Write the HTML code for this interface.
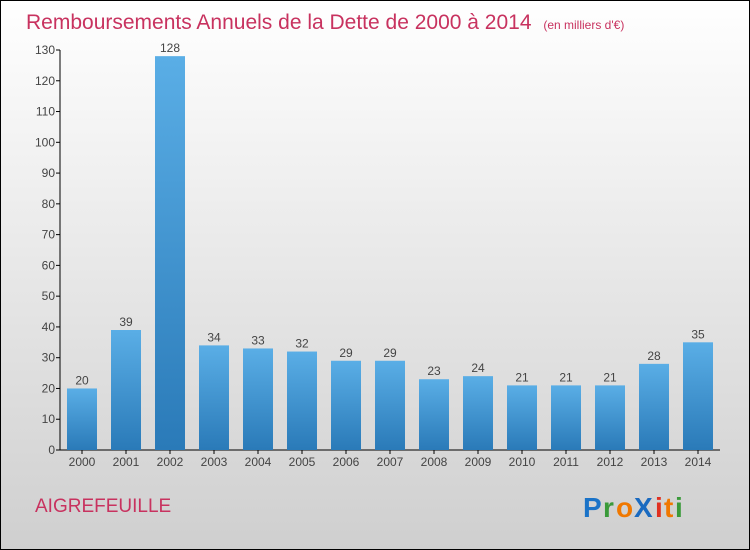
<!DOCTYPE html>
<html><head><meta charset="utf-8"><style>
body{margin:0}
#c{width:750px;height:550px;position:relative;overflow:hidden}
svg text{font-family:"Liberation Sans",sans-serif}
</style></head><body>
<div id="c">
<svg id="s" width="750" height="550" xmlns="http://www.w3.org/2000/svg">
<defs>
<linearGradient id="bg" x1="0" y1="0" x2="0" y2="1"><stop offset="0" stop-color="#ffffff"/><stop offset="1" stop-color="#cfcfcf"/></linearGradient>
<linearGradient id="bar" x1="0" y1="0" x2="0" y2="1"><stop offset="0" stop-color="#5aaee6"/><stop offset="1" stop-color="#2a7ab8"/></linearGradient>
</defs>
<rect x="0.5" y="0.5" width="749" height="549" fill="url(#bg)" stroke="#000"/>
<text x="26" y="29" font-size="21" fill="#c8325f">Remboursements Annuels de la Dette de 2000 à 2014 <tspan font-size="12" dx="6">(en milliers d'€)</tspan></text>
<g id="axes"></g>
<g id="bars"></g>
<text x="35" y="512" font-size="19" fill="#c8325f">AIGREFEUILLE</text>
<g font-size="28" font-weight="bold">
<text x="583" y="517" fill="#1a73c8">P</text><text x="603" y="517" fill="#3a9a3a">r</text><text x="616" y="517" fill="#f07800">o</text><text x="634" y="517" fill="#1a6ac0">X</text><text x="655" y="517" fill="#e03020">i</text><text x="664" y="517" fill="#f07800">t</text><text x="675" y="517" fill="#3a9a3a">i</text>
</g>
</svg>
</div>
<script>
const years=["2000","2001","2002","2003","2004","2005","2006","2007","2008","2009","2010","2011","2012","2013","2014"];
const values=[20,39,128,34,33,32,29,29,23,24,21,21,21,28,35];
const yTicks=[0,10,20,30,40,50,60,70,80,90,100,110,120,130];
const NS="http://www.w3.org/2000/svg";
const y0=450,yTop=50,yMax=130,x0=60,xEnd=720,first=82,step=44,bw=30;
function ys(v){return y0-(v/yMax)*(y0-yTop);}
function xs(i){return first+i*step;}
function mk(t,a,p){const e=document.createElementNS(NS,t);for(const k in a)e.setAttribute(k,a[k]);p.appendChild(e);return e;}
const ax=document.getElementById('axes'),bg=document.getElementById('bars');
let l=mk('line',{x1:x0,y1:yTop,x2:x0,y2:y0,stroke:'#000'},ax);


l=mk('line',{x1:x0,y1:y0,x2:xEnd,y2:y0,stroke:'#000'},ax);


yTicks.forEach(v=>{
 const y=ys(v);
 mk('line',{x1:x0-4,y1:y,x2:x0,y2:y,stroke:'#000'},ax);
 const t=mk('text',{x:x0-5,y:y+4,'font-size':12,fill:'#444','text-anchor':'end'},ax);
 t.textContent=v;
 
 
});
years.forEach((yr,i)=>{
 const cx=xs(i),v=values[i];
 const r=mk('rect',{x:cx-bw/2,y:ys(v),width:bw,height:y0-ys(v),fill:'url(#bar)'},bg);
 
 
 const vl=mk('text',{x:cx,y:ys(v)-4,'font-size':12,fill:'#444','text-anchor':'middle'},bg);
 vl.textContent=v;
 
 
 mk('line',{x1:cx,y1:y0,x2:cx,y2:y0+4,stroke:'#000'},ax);
 const t=mk('text',{x:cx,y:y0+16,'font-size':12,fill:'#444','text-anchor':'middle'},ax);
 t.textContent=yr;
 
 
});
</script>
</body></html>
